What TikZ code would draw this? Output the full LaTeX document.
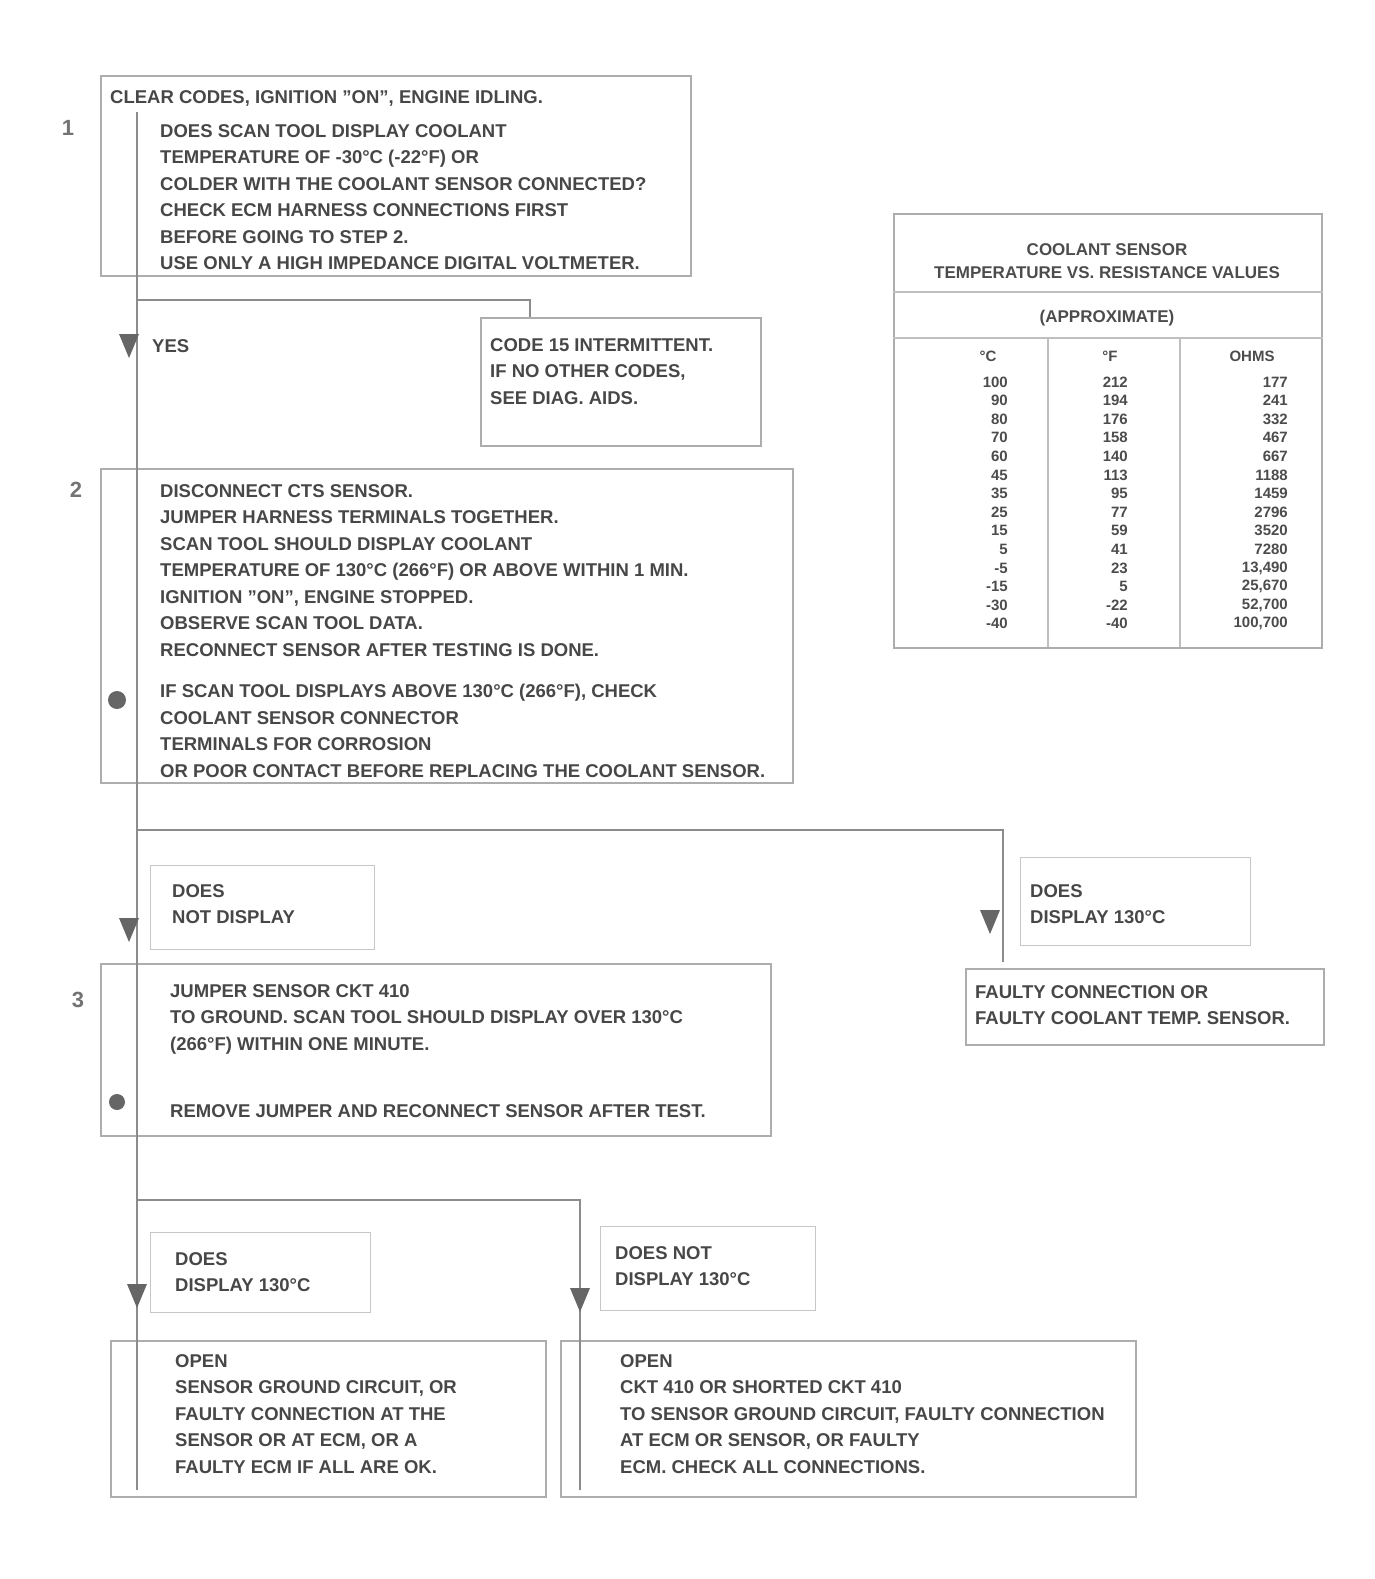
\documentclass[tikz,border=0pt]{standalone}
\usepackage{fontspec}
\setmainfont{Liberation Sans}
\usetikzlibrary{arrows.meta,calc}
\begin{document}
\begin{tikzpicture}[x=1pt,y=-1pt,
  box/.style={draw=black!32, line width=1.6pt, anchor=north west, inner sep=0pt},
  lbox/.style={draw=black!22, line width=1.4pt, anchor=north west, inner sep=0pt},
  txt/.style={anchor=north west, inner sep=0pt, align=left, text=black!72, font=\fontsize{18.5}{26.5}\selectfont\bfseries},
  flow/.style={draw=black!45, line width=2.4pt},
  tipmark/.style={fill=black!60},
  num/.style={text=black!55, inner sep=1pt, font=\fontsize{22}{24}\selectfont\bfseries},
  tab/.style={text=black!70, inner sep=0pt, font=\fontsize{15}{18}\selectfont\bfseries},
  ttl/.style={text=black!70, inner sep=0pt, font=\fontsize{17}{20}\selectfont\bfseries},
  tline/.style={draw=black!25, line width=1.4pt}]
\useasboundingbox (0,0) rectangle (1375,1579);

% ---------- boxes ----------
\node[box, minimum width=590pt, minimum height=200pt] (b1) at (100,75) {};
\node[box, minimum width=280pt, minimum height=128pt] (b2) at (480,317) {};
\node[box, minimum width=692pt, minimum height=314pt] (b3) at (100,468) {};
\node[lbox, minimum width=224pt, minimum height=84pt] (l1) at (150,865) {};
\node[lbox, minimum width=230pt, minimum height=88pt] (r1) at (1020,857) {};
\node[box, minimum width=358pt, minimum height=76pt] (r2) at (965,968) {};
\node[box, minimum width=670pt, minimum height=172pt] (b4) at (100,963) {};
\node[lbox, minimum width=220pt, minimum height=80pt] (l2) at (150,1232) {};
\node[lbox, minimum width=215pt, minimum height=84pt] (r3) at (600,1226) {};
\node[box, minimum width=435pt, minimum height=156pt] (b5) at (110,1340) {};
\node[box, minimum width=575pt, minimum height=156pt] (b6) at (560,1340) {};
\node[box, minimum width=428pt, minimum height=434pt] (tb) at (893,213) {};

% ---------- step numbers ----------
\node[num] (n1) at (68,128) {1};
\node[num] (n2) at (76,490) {2};
\node[num] (n3) at (78,1000) {3};

% ---------- flow lines ----------
\coordinate (tA) at (137,112);
\coordinate (tB) at (137,1490);
\coordinate (j1) at (137,300);
\coordinate (j1r) at (530,300);
\coordinate (j2) at (137,830);
\coordinate (j2r) at (1003,830);
\coordinate (j2e) at (1003,962);
\coordinate (j3) at (137,1200);
\coordinate (j3r) at (580,1200);
\coordinate (j3e) at (580,1490);
\draw[flow] (tA) -- (tB);
\draw[flow] (j1) -- (j1r) -- (b2.north -| j1r);
\draw[flow] (j2) -- (j2r) -- (j2e);
\draw[flow] (j3) -- (j3r) -- (j3e);

% arrow marks and bullets
\fill[tipmark] (119,334) -- (139,334) -- (129,358) -- cycle;
\fill[tipmark] (119,918) -- (139,918) -- (129,942) -- cycle;
\fill[tipmark] (127,1284) -- (147,1284) -- (137,1308) -- cycle;
\fill[tipmark] (570,1288) -- (590,1288) -- (580,1312) -- cycle;
\fill[tipmark] (980,910) -- (1000,910) -- (990,934) -- cycle;
\fill[tipmark] (117,700) circle (9);
\fill[tipmark] (117,1102) circle (8);

% ---------- texts ----------
\node[txt] (t1a) at (110,90) {CLEAR CODES, IGNITION "ON", ENGINE IDLING.};
\node[txt] (t1b) at (160,124) {DOES SCAN TOOL DISPLAY COOLANT\\TEMPERATURE OF -30°C (-22°F) OR\\COLDER WITH THE COOLANT SENSOR CONNECTED?\\CHECK ECM HARNESS CONNECTIONS FIRST\\BEFORE GOING TO STEP 2.\\USE ONLY A HIGH IMPEDANCE DIGITAL VOLTMETER.};
\node[txt] (ty1) at (152,339) {YES};
\node[txt] (t2) at (490,338) {CODE 15 INTERMITTENT.\\IF NO OTHER CODES,\\SEE DIAG. AIDS.};
\node[txt] (t3a) at (160,484) {DISCONNECT CTS SENSOR.\\JUMPER HARNESS TERMINALS TOGETHER.\\SCAN TOOL SHOULD DISPLAY COOLANT\\TEMPERATURE OF 130°C (266°F) OR ABOVE WITHIN 1 MIN.\\IGNITION "ON", ENGINE STOPPED.\\OBSERVE SCAN TOOL DATA.\\RECONNECT SENSOR AFTER TESTING IS DONE.};
\node[txt] (t3b) at (160,684) {IF SCAN TOOL DISPLAYS ABOVE 130°C (266°F), CHECK\\COOLANT SENSOR CONNECTOR\\TERMINALS FOR CORROSION\\OR POOR CONTACT BEFORE REPLACING THE COOLANT SENSOR.};
\node[txt] (tl1) at (172,884) {DOES\\NOT DISPLAY};
\node[txt] (tr1) at (1030,884) {DOES\\DISPLAY 130°C};
\node[txt] (tr2) at (975,985) {FAULTY CONNECTION OR\\FAULTY COOLANT TEMP. SENSOR.};
\node[txt] (t4a) at (170,984) {JUMPER SENSOR CKT 410\\TO GROUND. SCAN TOOL SHOULD DISPLAY OVER 130°C\\(266°F) WITHIN ONE MINUTE.};
\node[txt] (t4b) at (170,1104) {REMOVE JUMPER AND RECONNECT SENSOR AFTER TEST.};
\node[txt] (tl2) at (175,1252) {DOES\\DISPLAY 130°C};
\node[txt] (tr3) at (615,1246) {DOES NOT\\DISPLAY 130°C};
\node[txt] (t5) at (175,1354) {OPEN\\SENSOR GROUND CIRCUIT, OR\\FAULTY CONNECTION AT THE\\SENSOR OR AT ECM, OR A\\FAULTY ECM IF ALL ARE OK.};
\node[txt] (t6) at (620,1354) {OPEN\\CKT 410 OR SHORTED CKT 410\\TO SENSOR GROUND CIRCUIT, FAULTY CONNECTION\\AT ECM OR SENSOR, OR FAULTY\\ECM. CHECK ALL CONNECTIONS.};

% ---------- table ----------
\draw[tline] (tb.west |- 0,292) -- (tb.east |- 0,292);
\draw[tline] (tb.west |- 0,338) -- (tb.east |- 0,338);
\draw[tline] (1048,338) -- (1048,647);
\draw[tline] (1180,338) -- (1180,647);
\node[ttl] (th1) at (1107,250) {COOLANT SENSOR};
\node[ttl] (th2) at (1107,273) {TEMPERATURE VS. RESISTANCE VALUES};
\node[ttl] (th3) at (1107,318) {(APPROXIMATE)};
\node[tab] (hc) at (988,356) {°C};
\node[tab] (hf) at (1110,356) {°F};
\node[tab] (ho) at (1252,356) {OHMS};
\foreach \c/\f/\o [count=\i from 0] in {100/212/177, 90/194/241, 80/176/332, 70/158/467, 60/140/667, 45/113/1188, 35/95/1459, 25/77/2796, 15/59/3520, 5/41/7280, -5/23/{13,490}, -15/5/{25,670}, -30/-22/{52,700}, -40/-40/{100,700}} {
  \node[tab, anchor=east] (rc\i) at (1008,{382+18.6*\i}) {\c};
  \node[tab, anchor=east] (rf\i) at (1128,{382+18.6*\i}) {\f};
  \node[tab, anchor=east] (ro\i) at (1288,{382+18.6*\i}) {\o};
}
\end{tikzpicture}
\end{document}
